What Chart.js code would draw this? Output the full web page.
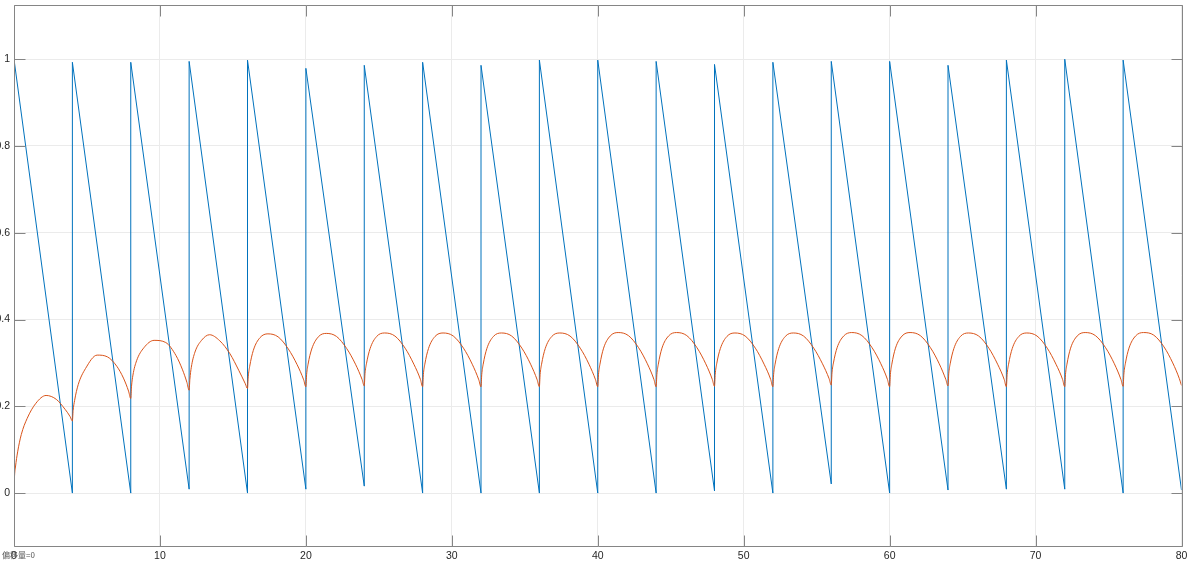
<!DOCTYPE html>
<html>
<head>
<meta charset="utf-8">
<script src="https://cdn.jsdelivr.net/npm/chart.js@4.4.1/dist/chart.umd.min.js"></script>
<style>
  html, body { margin: 0; padding: 0; background: #fff; overflow: hidden; }
  #page { position: relative; width: 1192px; height: 563px; overflow: hidden; }
  #wrap { position: absolute; left: -16px; top: 0; width: 1208px; height: 563px; }
  #note { position: absolute; left: 2px; top: 551px; font: 8px "Noto Sans CJK SC", "Liberation Sans", sans-serif; color: #555; line-height: 1; }
</style>
</head>
<body>
<div id="page">
  <div id="wrap"><canvas id="c"></canvas></div>
  <div id="note">偏移量=0</div>
</div>
<script>
// ── Data ────────────────────────────────────────────────────
const xTicks = [0, 10, 20, 30, 40, 50, 60, 70, 80];
const yTicks = [0, 0.2, 0.4, 0.6, 0.8, 1];

// sawtooth: rises vertically at each peak time, falls linearly to the trough
const sawPeakTimes   = [0, 4, 8, 12, 16, 20, 24, 28, 32, 36, 40, 44, 48, 52, 56, 60, 64, 68, 72, 76];
const sawPeaks       = [1.0, 0.993, 0.993, 0.995, 0.998, 0.979, 0.986, 0.993, 0.986, 0.998, 0.998, 0.995, 0.988, 0.993, 0.995, 0.995, 0.986, 0.998, 1.0, 0.998];
const sawTroughTimes = [4, 8, 12, 16, 20, 24, 28, 32, 36, 40, 44, 48, 52, 56, 60, 64, 68, 72, 76, 80];
const sawTroughs     = [0, 0, 0.009, 0, 0.009, 0.016, 0, 0, 0, 0, 0, 0.005, 0, 0.021, 0, 0.007, 0.009, 0.009, 0, 0.007];

// filtered output (orange)
const outTimes = [
  0, 0.03, 0.1, 0.25, 0.5, 0.9, 1.5, 2.2, 2.9, 3.5, 3.85,
  4, 4.05, 4.15, 4.4, 4.9, 5.7, 6.4, 7.05, 7.5, 7.85,
  8, 8.05, 8.15, 8.4, 8.9, 9.6, 10.4, 11.1, 11.55, 11.85,
  12, 12.05, 12.15, 12.4, 12.85, 13.4, 14.1, 14.8, 15.4, 15.85,
  16, 16.05, 16.15, 16.4, 16.85, 17.4, 18.1, 18.8, 19.4, 19.85,
  20, 20.05, 20.15, 20.4, 20.85, 21.4, 22.1, 22.8, 23.4, 23.85,
  24, 24.05, 24.15, 24.4, 24.85, 25.4, 26.1, 26.8, 27.4, 27.85,
  28, 28.05, 28.15, 28.4, 28.85, 29.4, 30.1, 30.8, 31.4, 31.85,
  32, 32.05, 32.15, 32.4, 32.85, 33.4, 34.1, 34.8, 35.4, 35.85,
  36, 36.05, 36.15, 36.4, 36.85, 37.4, 38.1, 38.8, 39.4, 39.85,
  40, 40.05, 40.15, 40.4, 40.85, 41.4, 42.1, 42.8, 43.4, 43.85,
  44, 44.05, 44.15, 44.4, 44.85, 45.4, 46.1, 46.8, 47.4, 47.85,
  48, 48.05, 48.15, 48.4, 48.85, 49.4, 50.1, 50.8, 51.4, 51.85,
  52, 52.05, 52.15, 52.4, 52.85, 53.4, 54.1, 54.8, 55.4, 55.85,
  56, 56.05, 56.15, 56.4, 56.85, 57.4, 58.1, 58.8, 59.4, 59.85,
  60, 60.05, 60.15, 60.4, 60.85, 61.4, 62.1, 62.8, 63.4, 63.85,
  64, 64.05, 64.15, 64.4, 64.85, 65.4, 66.1, 66.8, 67.4, 67.85,
  68, 68.05, 68.15, 68.4, 68.85, 69.4, 70.1, 70.8, 71.4, 71.85,
  72, 72.05, 72.15, 72.4, 72.85, 73.4, 74.1, 74.8, 75.4, 75.85,
  76, 76.05, 76.15, 76.4, 76.85, 77.4, 78.1, 78.8, 79.4, 79.85,
  80
];
const outValues = [
  0, 0.035, 0.06, 0.095, 0.135, 0.172, 0.207, 0.225, 0.216, 0.193, 0.176,
  0.166, 0.19, 0.213, 0.25, 0.287, 0.318, 0.314, 0.292, 0.265, 0.235,
  0.218, 0.245, 0.272, 0.305, 0.335, 0.352, 0.347, 0.317, 0.284, 0.255,
  0.237, 0.262, 0.29, 0.325, 0.352, 0.365, 0.351, 0.321, 0.283, 0.252,
  0.241, 0.268, 0.292, 0.329, 0.358, 0.367, 0.360, 0.332, 0.296, 0.261,
  0.245, 0.273, 0.297, 0.332, 0.360, 0.368, 0.361, 0.333, 0.297, 0.262,
  0.247, 0.275, 0.298, 0.333, 0.361, 0.369, 0.362, 0.334, 0.297, 0.262,
  0.245, 0.273, 0.297, 0.333, 0.361, 0.369, 0.362, 0.334, 0.297, 0.261,
  0.245, 0.273, 0.297, 0.333, 0.361, 0.369, 0.362, 0.334, 0.297, 0.261,
  0.245, 0.273, 0.297, 0.333, 0.361, 0.369, 0.362, 0.334, 0.297, 0.261,
  0.245, 0.273, 0.297, 0.334, 0.362, 0.370, 0.363, 0.335, 0.298, 0.262,
  0.245, 0.273, 0.297, 0.334, 0.362, 0.370, 0.363, 0.335, 0.298, 0.262,
  0.246, 0.274, 0.298, 0.333, 0.361, 0.369, 0.362, 0.334, 0.297, 0.262,
  0.245, 0.273, 0.297, 0.333, 0.361, 0.369, 0.362, 0.334, 0.298, 0.264,
  0.249, 0.277, 0.300, 0.335, 0.362, 0.370, 0.363, 0.335, 0.298, 0.262,
  0.245, 0.273, 0.297, 0.334, 0.362, 0.370, 0.363, 0.335, 0.298, 0.262,
  0.247, 0.275, 0.298, 0.333, 0.361, 0.369, 0.362, 0.334, 0.297, 0.262,
  0.245, 0.273, 0.297, 0.333, 0.361, 0.369, 0.362, 0.334, 0.297, 0.262,
  0.245, 0.273, 0.297, 0.334, 0.362, 0.370, 0.363, 0.335, 0.298, 0.262,
  0.246, 0.274, 0.298, 0.334, 0.362, 0.370, 0.364, 0.337, 0.300, 0.264,
  0.248
];

// ── Build datasets ───────────────────────────────────────────
const sawPoints = [];
sawPeakTimes.forEach((t, i) => {
  sawPoints.push({ x: t, y: sawPeaks[i] });
  sawPoints.push({ x: sawTroughTimes[i], y: sawTroughs[i] });
});
const outPoints = outTimes.map((t, i) => ({ x: t, y: outValues[i] }));

const AXIS = '#858585';
const TICK_LEN = 11;

// MATLAB-style box with inward ticks on all four sides
const boxPlugin = {
  id: 'box',
  afterDatasetsDraw(chart) {
    const { ctx, chartArea: a, scales: { x, y } } = chart;
    ctx.save();
    ctx.strokeStyle = AXIS;
    ctx.lineWidth = 1;
    const L = Math.round(a.left) + 0.5, R = Math.round(a.right) + 0.5;
    const T = Math.round(a.top) + 0.5, B = Math.round(a.bottom) + 0.5;
    ctx.beginPath();
    ctx.rect(L, T, R - L, B - T);
    xTicks.forEach(v => {
      const px = Math.round(x.getPixelForValue(v)) + 0.5;
      ctx.moveTo(px, B); ctx.lineTo(px, B - TICK_LEN);
      ctx.moveTo(px, T); ctx.lineTo(px, T + TICK_LEN);
    });
    yTicks.forEach(v => {
      const py = Math.round(y.getPixelForValue(v)) + 0.5;
      ctx.moveTo(L, py); ctx.lineTo(L + TICK_LEN, py);
      ctx.moveTo(R, py); ctx.lineTo(R - TICK_LEN, py);
    });
    ctx.stroke();
    ctx.restore();
  }
};

new Chart(document.getElementById('c'), {
  type: 'line',
  data: {
    datasets: [
      { label: 'saw', data: sawPoints, borderColor: '#0072BD', borderWidth: 1, pointRadius: 0, tension: 0, order: 1 },
      { label: 'out', data: outPoints, borderColor: '#D95319', borderWidth: 1, pointRadius: 0, cubicInterpolationMode: 'monotone', order: 0 },
    ]
  },
  options: {
    responsive: true, maintainAspectRatio: false, animation: false,
    layout: { padding: { top: 5, right: 10.5, bottom: 0, left: 0 } },
    plugins: { legend: { display: false }, tooltip: { enabled: false } },
    scales: {
      x: {
        type: 'linear', min: 0, max: 80,
        afterBuildTicks: s => { s.ticks = xTicks.map(v => ({ value: v })); },
        afterFit: s => { s.height = 17; },
        ticks: { color: '#262626', padding: 4, maxRotation: 0, font: { family: 'Liberation Sans', size: 10.5 }, callback: v => String(v) },
        grid: { color: '#ebebeb', drawTicks: false },
        border: { display: false }
      },
      y: {
        type: 'linear', min: -0.122, max: 1.125,
        afterBuildTicks: s => { s.ticks = yTicks.map(v => ({ value: v })); },
        afterFit: s => { s.width = 30; s.paddingTop = 0; s.paddingBottom = 0; },
        ticks: { color: '#262626', padding: 4, font: { family: 'Liberation Sans', size: 10.5 }, callback: v => String(v) },
        grid: { color: '#ebebeb', drawTicks: false },
        border: { display: false }
      }
    }
  },
  plugins: [boxPlugin]
});
</script>
</body>
</html>
